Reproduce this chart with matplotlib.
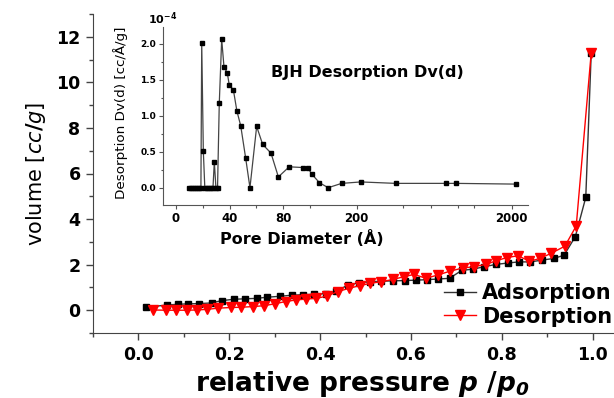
import numpy as np
import matplotlib
matplotlib.use('Agg')
import matplotlib.pyplot as plt

# isotherm data (relative pressure p/p0, volume cc/g)
ads_p = [0.017, 0.064, 0.087, 0.110, 0.134, 0.161, 0.183, 0.210, 0.234, 0.260,
         0.283, 0.311, 0.338, 0.362, 0.387, 0.412, 0.436, 0.461, 0.485, 0.511,
         0.535, 0.561, 0.586, 0.611, 0.635, 0.660, 0.685, 0.712, 0.736, 0.762,
         0.787, 0.813, 0.837, 0.863, 0.889, 0.914, 0.937, 0.962, 0.985, 0.997]
ads_v = [0.13, 0.23, 0.26, 0.28, 0.29, 0.32, 0.42, 0.48, 0.50, 0.52,
         0.57, 0.61, 0.66, 0.68, 0.70, 0.73, 0.84, 1.10, 1.21, 1.25,
         1.27, 1.29, 1.30, 1.32, 1.34, 1.37, 1.40, 1.75, 1.80, 1.91,
         2.01, 2.07, 2.12, 2.12, 2.20, 2.27, 2.41, 3.23, 4.95, 11.3]

des_p = [0.033, 0.060, 0.083, 0.106, 0.130, 0.152, 0.176, 0.204, 0.226, 0.253,
         0.277, 0.300, 0.324, 0.347, 0.370, 0.392, 0.415, 0.439, 0.464, 0.487,
         0.511, 0.534, 0.561, 0.584, 0.607, 0.633, 0.660, 0.687, 0.714, 0.738,
         0.765, 0.788, 0.811, 0.836, 0.861, 0.884, 0.908, 0.939, 0.964, 0.997]
des_v = [0.01, 0.00, 0.00, 0.00, 0.01, 0.04, 0.09, 0.12, 0.13, 0.16,
         0.20, 0.28, 0.38, 0.45, 0.49, 0.52, 0.62, 0.82, 0.96, 1.08,
         1.18, 1.25, 1.35, 1.47, 1.57, 1.40, 1.55, 1.72, 1.85, 1.91,
         2.01, 2.17, 2.31, 2.39, 2.15, 2.27, 2.49, 2.81, 3.70, 11.3]

# BJH pore size distribution (diameter in Angstrom, Dv in 1e-4 cc/A/g)
pore_d = [10, 11.5, 13, 14.5, 16, 17.5, 18.6, 19.2, 20.4, 21.5,
          23, 24.5, 26, 27.6, 28.6, 29.8, 31, 32.3, 34.1, 35.8,
          38.3, 39.8, 42.8, 45.5, 48.3, 52.0, 55.2, 60.2, 64.7, 70.9,
          76.4, 84.5, 94.5, 98.3, 102.6, 115, 131, 160, 213, 357,
          754, 875, 2133]
pore_dv = [0, 0, 0, 0, 0, 0, 0, 2.01, 0.51, 0,
           0, 0, 0, 0, 0.36, 0, 0, 1.17, 2.06, 1.68,
           1.59, 1.42, 1.36, 1.06, 0.86, 0.41, 0, 0.85, 0.60, 0.48,
           0.15, 0.29, 0.28, 0.28, 0.19, 0.07, 0, 0.06, 0.08, 0.06,
           0.06, 0.06, 0.05]

main_xticks = [0.0, 0.2, 0.4, 0.6, 0.8, 1.0]
main_yticks = [0, 2, 4, 6, 8, 10, 12]
inset_xticks = [0, 40, 80, 200, 2000]
inset_xminor = [20, 60, 100, 400, 600, 900, 1150]
inset_yticks = [0.0, 0.5, 1.0, 1.5, 2.0]

plt.rcParams['mathtext.fontset'] = 'custom'
plt.rcParams['mathtext.rm'] = 'DejaVu Sans:bold'
plt.rcParams['mathtext.it'] = 'DejaVu Sans:italic'
plt.rcParams['mathtext.bf'] = 'DejaVu Sans:italic:bold'

W, H = 614, 398
fig = plt.figure(figsize=(W / 100, H / 100), dpi=100)

# main axes (right end runs past the figure edge, as in the reference)
# x: 0.0 at 137 px, 1.0 at 593 px -> xlim(-0.0965, 1.1) spans 93..638 px
ax = fig.add_axes([93 / W, 1 - 333 / H, (638 - 93) / W, (333 - 14) / H])
ax.plot(ads_p, ads_v, '-s', color='#333333', lw=1, ms=5, mfc='black', mec='black',
        label='Adsorption')
ax.plot(des_p, des_v, '-v', color='red', lw=1, ms=6.5, mfc='red', mec='red',
        label='Desorption')
ax.set_xlim(-0.0965, 1.1)
ax.set_ylim(-0.92, 13.0)
ax.set_xticks(main_xticks)
ax.set_xticklabels([f'{v:.1f}' for v in main_xticks])
ax.set_xticks(np.arange(-0.1, 1.11, 0.1), minor=True)
ax.set_yticks(main_yticks)
ax.set_yticks(range(-1, 14), minor=True)
ax.spines['top'].set_visible(False)
ax.spines['right'].set_visible(False)
for s in ['left', 'bottom']:
    ax.spines[s].set_color('#444444')
ax.tick_params(which='major', direction='out', length=5, width=1, color='#444444',
               labelsize=12.5, pad=4)
ax.tick_params(which='minor', direction='out', length=3, width=1, color='#444444')
for lbl in ax.get_xticklabels() + ax.get_yticklabels():
    lbl.set_fontweight('bold')

ax.set_xlabel(r'relative pressure $\mathbf{p}$ /$\mathbf{p_0}$', fontsize=19,
              fontweight='bold')
ax.xaxis.set_label_coords(0.495, -0.112)
ax.set_ylabel(r'volume [$\mathit{cc/g}$]', fontsize=15)
ax.yaxis.set_label_coords(-0.083, 0.50)

ax.legend(loc='upper left', bbox_to_anchor=(434 / W, 1 - 273 / H),
          bbox_transform=fig.transFigure, frameon=False, borderpad=0,
          handlelength=1.5, handletextpad=0.3, labelspacing=0.15,
          prop={'weight': 'bold', 'size': 15})

# inset: BJH desorption, segmented x scale (linear to 100 A, log above)
K = 1.157


def fwd(x):
    x = np.asarray(x, dtype=float)
    return np.where(x <= 100, x / 100, 1 + K * np.log10(np.maximum(x, 100) / 100))


def inv(t):
    t = np.asarray(t, dtype=float)
    return np.where(t <= 1, t * 100, 100 * 10 ** ((np.maximum(t, 1) - 1) / K))


axi = fig.add_axes([163 / W, 1 - 205 / H, (528 - 163) / W, (205 - 27) / H])
axi.set_xscale('function', functions=(fwd, inv))
axi.plot(pore_d, pore_dv, '-s', color='#444444', lw=0.9, ms=3.5, mfc='black',
         mec='black')
axi.set_xlim(-9.7, 2549)
axi.set_ylim(-0.24, 2.23)
axi.set_xticks(inset_xticks)
axi.set_xticklabels([str(v) for v in inset_xticks])
axi.set_xticks(inset_xminor, minor=True)
axi.set_xticklabels([], minor=True)
axi.set_yticks(inset_yticks)
axi.set_yticklabels([f'{v:.1f}' for v in inset_yticks])
axi.set_yticks([0.25, 0.75, 1.25, 1.75], minor=True)
axi.spines['top'].set_visible(False)
axi.spines['right'].set_visible(False)
for s in ['left', 'bottom']:
    axi.spines[s].set_color('#555555')
axi.tick_params(which='major', direction='out', length=3, width=0.8, color='#555555',
                pad=2)
axi.tick_params(which='minor', direction='out', length=1.8, width=0.8, color='#555555')
axi.tick_params(axis='x', which='major', labelsize=8.5)
axi.tick_params(axis='y', which='major', labelsize=6.5)
for lbl in axi.get_xticklabels() + axi.get_yticklabels():
    lbl.set_fontweight('bold')

axi.set_xlabel('Pore Diameter (Å)', fontsize=11.5, fontweight='bold')
axi.xaxis.set_label_coords(0.381, -0.14)
axi.set_ylabel('Desorption Dv(d) [cc/Å/g]', fontsize=9.7)
axi.yaxis.set_label_coords(-0.096, 0.52)
axi.text(0.559, 0.747, 'BJH Desorption Dv(d)', transform=axi.transAxes,
         ha='center', va='center', fontsize=11.5, fontweight='bold')
axi.text(-0.041, 1.017, r'10$^{\mathrm{-4}}$', transform=axi.transAxes,
         ha='left', va='baseline', fontsize=8, fontweight='bold')

fig.savefig('out.png', dpi=100)
